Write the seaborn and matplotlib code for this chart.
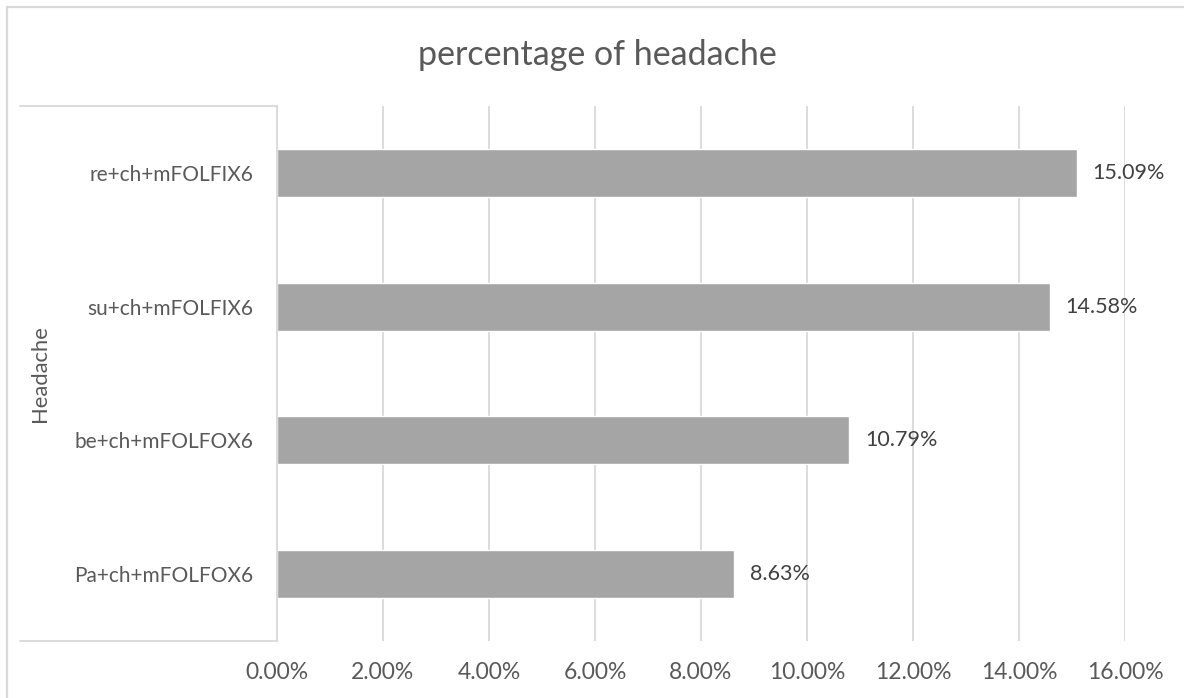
import matplotlib
matplotlib.use("Agg")
import matplotlib.pyplot as plt
from matplotlib.lines import Line2D
from matplotlib.ticker import FuncFormatter
import seaborn as sns
import pandas as pd

# Data
regimens = ["re+ch+mFOLFIX6", "su+ch+mFOLFIX6", "be+ch+mFOLFOX6", "Pa+ch+mFOLFOX6"]
headache_pct = [15.09, 14.58, 10.79, 8.63]
x_ticks = [0, 2, 4, 6, 8, 10, 12, 14, 16]

df = pd.DataFrame({"regimen": regimens, "pct": headache_pct})

sns.set_theme(style="white")
plt.rcParams["font.family"] = ["Lato", "DejaVu Sans"]

W, H = 1184, 698
fig = plt.figure(figsize=(W / 100, H / 100), dpi=100)
fig.patch.set_facecolor("white")

# Plot area in pixel coordinates
left_px, right_px, top_px, bottom_px = 277, 1125, 106, 641
ax = fig.add_axes([left_px / W, 1 - bottom_px / H,
                   (right_px - left_px) / W, (bottom_px - top_px) / H])

sns.barplot(data=df, x="pct", y="regimen", orient="h", color="#a5a5a5",
            saturation=1, width=0.358, ax=ax, zorder=2)

ax.set_xlim(0, 16)
ax.set_xticks(x_ticks)
ax.xaxis.set_major_formatter(FuncFormatter(lambda v, _: f"{v:.2f}%"))
ax.grid(axis="x", color="#d9d9d9", linewidth=1.3, zorder=0)
ax.set_axisbelow(True)

for side in ["top", "right", "bottom"]:
    ax.spines[side].set_visible(False)
ax.spines["left"].set_color("#d9d9d9")
ax.spines["left"].set_linewidth(1.3)

ax.tick_params(axis="both", length=0)
ax.tick_params(axis="x", pad=15, labelsize=16.5, labelcolor="#595959")
ax.tick_params(axis="y", pad=17, labelsize=15, labelcolor="#595959")

ax.set_xlabel("")
ax.set_ylabel("")

# Value labels
for bar, v in zip(ax.patches, headache_pct):
    y = bar.get_y() + bar.get_height() / 2
    ax.annotate(f"{v:.2f}%", xy=(bar.get_width(), y), xytext=(11.5, 0),
                textcoords="offset points", va="center", ha="left",
                fontsize=15.5, color="#404040")

# Title and axis title
fig.text(597 / W, 1 - 55 / H, "percentage of headache", ha="center", va="center",
         fontsize=24.5, color="#595959")
fig.text(40 / W, 1 - ((top_px + bottom_px) / 2) / H, "Headache", rotation=90,
         ha="center", va="center", fontsize=15.8, color="#595959")

# Category-axis frame and chart border
line_kw = dict(color="#d9d9d9", linewidth=1.3, transform=fig.transFigure)
fig.add_artist(Line2D([20 / W, left_px / W], [1 - top_px / H] * 2, **line_kw))
fig.add_artist(Line2D([20 / W, left_px / W], [1 - bottom_px / H] * 2, **line_kw))
border_kw = dict(color="#d9d9d9", linewidth=1.6, transform=fig.transFigure)
fig.add_artist(Line2D([7 / W, 7 / W], [0, 1 - 7 / H], **border_kw))
fig.add_artist(Line2D([7 / W, 1], [1 - 7 / H] * 2, **border_kw))

fig.savefig("out.png", dpi=100, facecolor="white")
